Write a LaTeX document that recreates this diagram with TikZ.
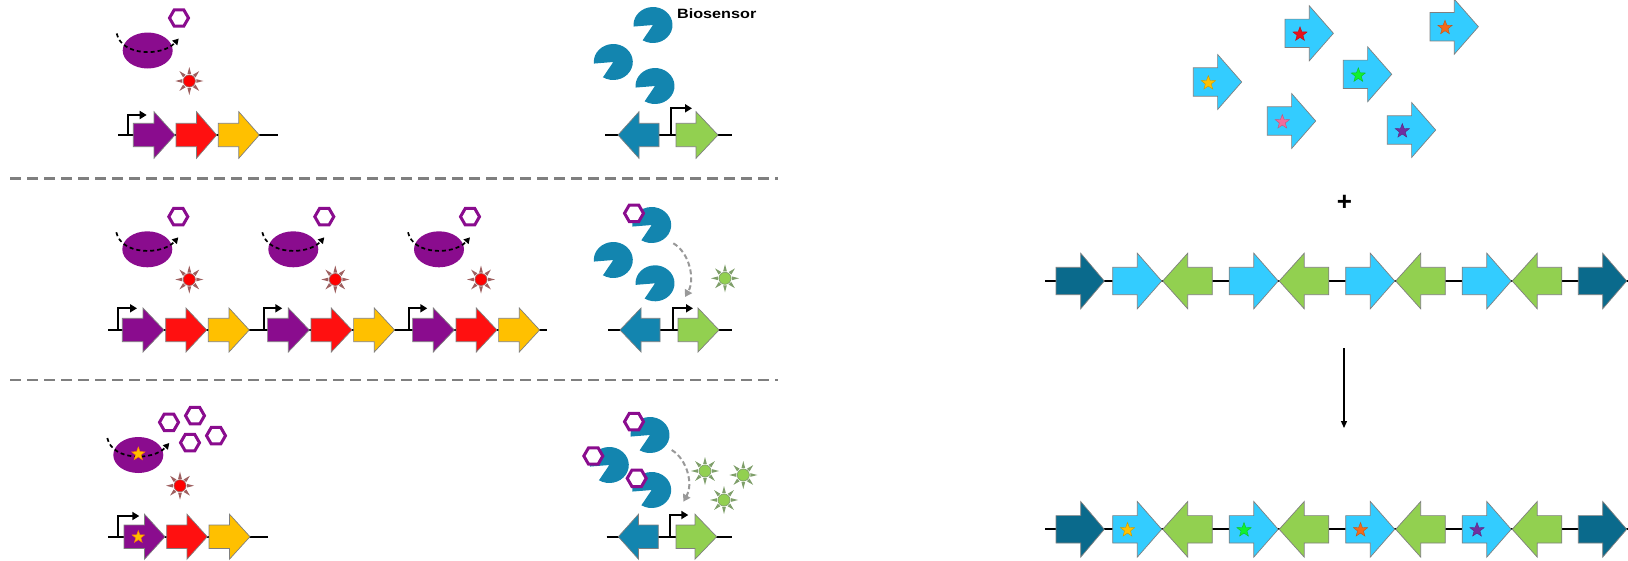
\documentclass[tikz,border=0pt]{standalone}
\usepackage{fontspec}
\setmainfont{Liberation Sans}
\usetikzlibrary{arrows.meta,shapes.geometric}

\definecolor{enzpurple}{HTML}{8A0C8E}
\definecolor{genered}{HTML}{FF1010}
\definecolor{geneyellow}{HTML}{FFC000}
\definecolor{sensblue}{HTML}{1385AF}
\definecolor{sensgreen}{HTML}{92D050}
\definecolor{libblue}{HTML}{33CCFF}
\definecolor{flankblue}{HTML}{0A6A8C}
\definecolor{outl}{HTML}{7F7F7F}
\definecolor{rayred}{HTML}{9E6060}
\definecolor{raygreen}{HTML}{7F9F6A}
\definecolor{starred}{HTML}{E8101A}
\definecolor{starpink}{HTML}{F06C9B}
\definecolor{stargreen}{HTML}{10F030}
\definecolor{starorange}{HTML}{F26A1B}
\definecolor{starpurple}{HTML}{7030A0}
\definecolor{staryellow}{HTML}{FFC000}

\tikzset{
  gene/.style={draw=outl, line width=0.7pt},
  dna/.style={line width=2pt, black},
  prom/.style={line width=1.8pt, black, -{Triangle[length=7pt,width=8pt]}},
  hexring/.style={draw=enzpurple, line width=3pt, fill=white, line join=miter},
  enzpath/.style={line width=1.7pt, black, dash pattern=on 4pt off 3pt,
                  -{Triangle[length=6pt,width=6.5pt]}},
  sep/.style={draw=outl, line width=2.4pt, dash pattern=on 11pt off 6pt},
  activ/.style={draw=gray!80, line width=2pt, dash pattern=on 5pt off 3pt,
                -{Triangle[length=7pt,width=8pt]}, gray!80},
  starmark/.style={star, star points=5, star point ratio=2.4, inner sep=0pt,
                   minimum size=#1},
  starmark/.default=15pt
}

% right-pointing gene: start, head base, tip, centre y, body half, head half, colour
\newcommand{\GeneR}[7]{%
  \draw[gene, fill=#7] (#1,-#4+#5) -- (#2,-#4+#5) -- (#2,-#4+#6) -- (#3,-#4)
    -- (#2,-#4-#6) -- (#2,-#4-#5) -- (#1,-#4-#5) -- cycle;}
% left-pointing gene: tip, head base, end, centre y, body half, head half, colour
\newcommand{\GeneL}[7]{%
  \draw[gene, fill=#7] (#1,-#4) -- (#2,-#4+#6) -- (#2,-#4+#5) -- (#3,-#4+#5)
    -- (#3,-#4-#5) -- (#2,-#4-#5) -- (#2,-#4-#6) -- cycle;}
% promoter: x, line y, top y, arrow end x
\newcommand{\Prom}[4]{\draw[prom] (#1,-#2) -- (#1,-#3) -- (#4,-#3);}
% ring-shaped product
\newcommand{\Hexa}[2]{%
  \draw[hexring] (#1,-#2) ++(0:9.5) -- ++(120:9.5) -- ++(180:9.5) -- ++(240:9.5)
    -- ++(300:9.5) -- ++(0:9.5) -- cycle;}
% biosensor protein
\newcommand{\Pac}[2]{%
  \fill[sensblue] (#1,-#2) -- ++(238:19.5 and 18)
    arc[start angle=238, end angle=545, x radius=19.5, y radius=18] -- cycle;}
% enzyme with its reaction arrow
\newcommand{\Enz}[2]{%
  \fill[enzpurple] (#1,-#2) ellipse [x radius=25, y radius=18];
  \draw[enzpath] (#1-31,-#2+17) .. controls (#1-26,-#2-6) and (#1+15,-#2-6)
    .. (#1+31,-#2+12);}
% signal: x, y, core colour, ray colour
\newcommand{\Sun}[4]{%
  \begin{scope}[shift={(#1,-#2)}]
    \foreach \a in {0,45,...,315}
      \fill[#4] (\a-15:7.2) -- (\a:14) -- (\a+15:7.2) -- cycle;
    \filldraw[fill=#3, draw=#4, line width=0.7pt] (0,0) circle (6);
  \end{scope}}

\begin{document}
\begin{tikzpicture}[x=1pt, y=1pt]
\useasboundingbox (0,0) rectangle (1628,-560);

% ---------------- row 1: single pathway copy ----------------
\Enz{147.7}{50.5}
\Hexa{179}{18}
\Sun{189.3}{81}{red}{rayred}
\coordinate (r1a) at (118,-135); \coordinate (r1b) at (278,-135);
\draw[dna] (r1a) -- (r1b);
\GeneR{133.3}{154}{175}{135}{11.7}{23.3}{enzpurple}
\GeneR{176}{196.5}{216.7}{135}{11.7}{23.3}{genered}
\GeneR{218.3}{238.8}{259.3}{135}{11.7}{23.3}{geneyellow}
\Prom{128.3}{135}{115}{146.7}

\Pac{653}{25} \Pac{613.3}{62} \Pac{655}{86}
\node[font=\bfseries\fontsize{13.5}{15}\selectfont, xscale=1.2] (bios) at (716.7,-13.5) {Biosensor};
\coordinate (s1a) at (605,-135); \coordinate (s1b) at (732,-135);
\draw[dna] (s1a) -- (s1b);
\GeneL{618}{639}{659}{135}{11.7}{23.3}{sensblue}
\GeneR{676}{696}{718}{135}{11.7}{23.3}{sensgreen}
\Prom{671}{135}{108.3}{692}

\coordinate (sepA1) at (10,-178.6); \coordinate (sepA2) at (778,-178.6);
\draw[sep] (sepA1) -- (sepA2);

% ---------------- row 2: three pathway copies ----------------
\foreach \dx/\ex in {0/147.3, 145.3/293.3, 290.3/439}{
  \Enz{\ex}{249.3}
  \Hexa{\ex+31}{216.7}
  \Sun{\ex+42}{279.5}{red}{rayred}
}
\coordinate (r2a) at (108.3,-330); \coordinate (r2b) at (546.7,-330);
\draw[dna] (r2a) -- (r2b);
\foreach \dx in {0,145.3,290.3}{
  \GeneR{122.3+\dx}{143+\dx}{164+\dx}{330}{11.7}{22}{enzpurple}
  \GeneR{165.7+\dx}{186+\dx}{206.7+\dx}{330}{11.7}{22}{genered}
  \GeneR{208.3+\dx}{229+\dx}{249.3+\dx}{330}{11.7}{22}{geneyellow}
  \Prom{118.3+\dx}{330}{308.3}{137+\dx}
}

\Pac{651.7}{225} \Pac{613.3}{260} \Pac{655}{283.3}
\Hexa{634}{213.3}
\coordinate (act1s) at (673.3,-243.3); \coordinate (act1e) at (685,-297);
\draw[activ] (act1s) .. controls (690,-253) and (695,-280) .. (act1e);
\Sun{725}{278.3}{sensgreen}{raygreen}
\coordinate (s2a) at (608,-330); \coordinate (s2b) at (732,-330);
\draw[dna] (s2a) -- (s2b);
\GeneL{620}{641}{660}{330}{11.7}{22}{sensblue}
\GeneR{678}{698}{719}{330}{11.7}{22}{sensgreen}
\Prom{673.3}{330}{308.3}{693}

\coordinate (sepB1) at (10,-380); \coordinate (sepB2) at (778,-380);
\draw[sep] (sepB1) -- (sepB2);

% ---------------- row 3: improved enzyme ----------------
\Enz{138.3}{455}
\node[starmark=14pt, fill=staryellow, draw=orange, line width=0.5pt] (enzstar) at (138.3,-454) {};
\Hexa{169}{422.3} \Hexa{195}{415.7} \Hexa{190}{442.7} \Hexa{216}{435.7}
\Sun{180}{485.7}{red}{rayred}
\coordinate (r3a) at (108.3,-536.7); \coordinate (r3b) at (268.3,-536.7);
\draw[dna] (r3a) -- (r3b);
\GeneR{124}{144.5}{165}{536.7}{11.7}{22.5}{enzpurple}
\GeneR{166.7}{187}{207.3}{536.7}{11.7}{22.5}{genered}
\GeneR{209}{229.5}{250}{536.7}{11.7}{22.5}{geneyellow}
\node[starmark=13pt, fill=staryellow, draw=orange, line width=0.5pt] (genestar) at (138.3,-537) {};
\Prom{118.3}{536.7}{516}{139.3}

\Pac{650}{435} \Pac{609.3}{465} \Pac{651.7}{490}
\Hexa{634}{421.7} \Hexa{593.3}{456} \Hexa{636.7}{478.3}
\coordinate (act2s) at (671.7,-450); \coordinate (act2e) at (683.3,-501.7);
\draw[activ] (act2s) .. controls (688,-460) and (693,-485) .. (act2e);
\Sun{705}{471}{sensgreen}{raygreen}
\Sun{743.3}{475}{sensgreen}{raygreen}
\Sun{724}{500}{sensgreen}{raygreen}
\coordinate (s3a) at (606.7,-536.7); \coordinate (s3b) at (731.7,-536.7);
\draw[dna] (s3a) -- (s3b);
\GeneL{618.3}{638.5}{658.3}{536.7}{11.7}{22.5}{sensblue}
\GeneR{676}{695}{716.7}{536.7}{11.7}{22.5}{sensgreen}
\Prom{670}{536.7}{515}{688.3}

% ---------------- right: variant library ----------------
\foreach \x/\y/\c/\n in {1193.3/82/staryellow/a, 1285/33.3/starred/b,
    1267.3/121/starpink/c, 1343.3/74.3/stargreen/d, 1430/26.7/starorange/e,
    1387.3/130/starpurple/f}{
  \GeneR{\x}{\x+24.3}{\x+48.4}{\y}{14.2}{27.5}{libblue}
  \node[starmark, fill=\c, draw=\c!80!black, line width=0.4pt] (lib\n) at (\x+15,-\y-1) {};
}

\node[font=\bfseries\fontsize{26}{28}\selectfont] (plus) at (1344.5,-203) {+};

% assembly construct before selection
\coordinate (c1a) at (1045,-281); \coordinate (c1b) at (1628,-281);
\draw[dna] (c1a) -- (c1b);
\GeneR{1056}{1080.7}{1104.3}{281}{13.7}{27.8}{flankblue}
\foreach \dx in {0,116.5,233,349.5}{
  \GeneR{1112.7+\dx}{1137.3+\dx}{1161.7+\dx}{281}{13.7}{27.8}{libblue}
  \GeneL{1162.7+\dx}{1187.7+\dx}{1212.3+\dx}{281}{13.7}{27.8}{sensgreen}
}
\GeneR{1578.3}{1602.7}{1626.7}{281}{13.7}{27.8}{flankblue}

\coordinate (vtop) at (1344,-348); \coordinate (vbot) at (1344,-428);
\draw[line width=1.3pt, -{Triangle[length=7pt,width=6pt]}] (vtop) -- (vbot);

% assembled construct with selected variants
\coordinate (c2a) at (1045,-529.3); \coordinate (c2b) at (1628,-529.3);
\draw[dna] (c2a) -- (c2b);
\GeneR{1056}{1080.7}{1104.3}{529.3}{13.7}{27.8}{flankblue}
\foreach \dx/\c/\n in {0/staryellow/a, 116.5/stargreen/b, 233/starorange/c, 349.5/starpurple/d}{
  \GeneR{1112.7+\dx}{1137.3+\dx}{1161.7+\dx}{529.3}{13.7}{27.8}{libblue}
  \GeneL{1162.7+\dx}{1187.7+\dx}{1212.3+\dx}{529.3}{13.7}{27.8}{sensgreen}
  \node[starmark, fill=\c, draw=\c!80!black, line width=0.4pt] (sel\n) at (1127.5+\dx,-530) {};
}
\GeneR{1578.3}{1602.7}{1626.7}{529.3}{13.7}{27.8}{flankblue}

\end{tikzpicture}
\end{document}
